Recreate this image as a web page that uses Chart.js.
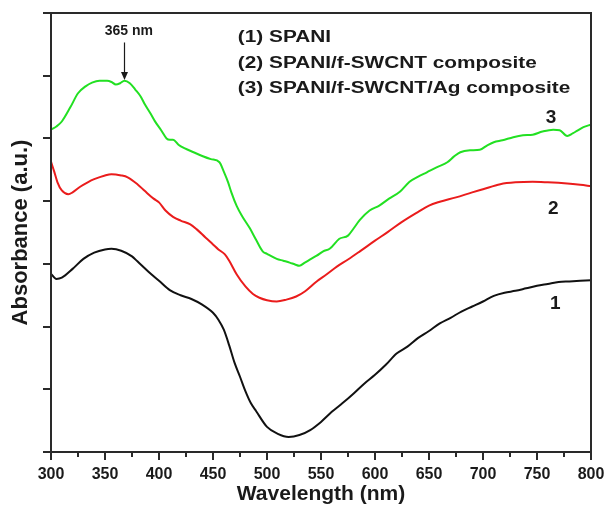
<!DOCTYPE html>
<html>
<head>
<meta charset="utf-8">
<script src="https://cdn.jsdelivr.net/npm/chart.js@4.4.1/dist/chart.umd.min.js"></script>
<style>
  html, body { margin: 0; padding: 0; background: #fff; }
  canvas { display: block; }
</style>
</head>
<body>
<canvas id="c" width="604" height="507"></canvas>
<script>
// ---- data ----
const wavelength1 = [300,305,310,320,330,340,350,356,365,375,380,390,400,410,420,430,440,450,455,460,465,470,475,480,485,490,500,510,520,530,540,550,560,570,580,590,600,610,620,630,640,650,660,670,680,690,700,710,720,730,740,750,760,770,780,790,800];
const absorbance1 = [2.84,2.76,2.78,2.92,3.08,3.18,3.23,3.24,3.21,3.12,3.04,2.88,2.73,2.58,2.50,2.44,2.35,2.22,2.11,1.95,1.70,1.42,1.20,0.97,0.78,0.65,0.40,0.29,0.24,0.27,0.35,0.48,0.64,0.78,0.93,1.09,1.23,1.39,1.57,1.68,1.82,1.93,2.05,2.14,2.24,2.32,2.40,2.49,2.54,2.57,2.61,2.65,2.68,2.71,2.72,2.73,2.74];

const wavelength2 = [300,303,306,310,316,320,327,334,340,350,356,365,371,380,387,395,400,406,413,420,429,435,443,450,455,461,465,472,480,487,493,500,509,518,527,535,546,555,565,575,586,600,612,625,640,650,660,675,690,700,716,730,746,760,778,790,800];
const absorbance2 = [4.63,4.47,4.30,4.17,4.11,4.14,4.23,4.30,4.35,4.41,4.43,4.41,4.38,4.27,4.16,4.04,3.98,3.85,3.75,3.69,3.63,3.55,3.42,3.31,3.23,3.15,3.05,2.83,2.64,2.52,2.46,2.42,2.40,2.43,2.48,2.56,2.72,2.83,2.96,3.07,3.20,3.37,3.51,3.67,3.83,3.93,3.99,4.06,4.14,4.19,4.27,4.30,4.31,4.30,4.28,4.26,4.24];

const wavelength3 = [300,305,310,318,325,332,338,345,352,356,360,364,368,373,378,383,387,392,396,402,407,410,413,418,424,432,440,448,456,460,464,467,472,477,484,490,496,500,509,515,521,526,530,535,540,546,552,558,567,575,580,586,595,604,613,623,632,640,648,657,667,673,679,688,697,704,710,718,728,737,746,755,765,771,778,783,787,793,800];
const absorbance3 = [5.14,5.19,5.27,5.50,5.72,5.83,5.89,5.92,5.92,5.90,5.86,5.88,5.92,5.88,5.78,5.67,5.54,5.40,5.28,5.13,5.00,4.98,4.98,4.90,4.84,4.78,4.72,4.67,4.62,4.47,4.30,4.14,3.92,3.76,3.57,3.38,3.20,3.16,3.08,3.05,3.02,2.99,2.97,3.02,3.07,3.13,3.20,3.24,3.40,3.45,3.56,3.70,3.85,3.93,4.04,4.15,4.31,4.39,4.46,4.54,4.62,4.71,4.78,4.81,4.82,4.89,4.94,4.97,5.02,5.05,5.06,5.11,5.14,5.13,5.04,5.08,5.12,5.18,5.22];

const seriesLabels = ['(1) SPANI', '(2) SPANI/f-SWCNT composite', '(3) SPANI/f-SWCNT/Ag composite'];
const curveNumbers = ['1', '2', '3'];
const xMajorTicks = [300,350,400,450,500,550,600,650,700,750,800];
const peakLabel = '365 nm';

const FONT = '"Liberation Sans", Arial, Helvetica, sans-serif';
const AXIS = '#2a2a2a';

function pts(xs, ys) { return xs.map((x, i) => ({ x: x, y: ys[i] })); }

const framePlugin = {
  id: 'frame',
  afterDraw(chart) {
    const { ctx, chartArea: a, scales } = chart;
    const xs = scales.x, ys = scales.y;
    ctx.save();
    // minor x ticks
    ctx.strokeStyle = AXIS;
    ctx.lineWidth = 2;
    for (let i = 0; i < xMajorTicks.length - 1; i++) {
      const v = (xMajorTicks[i] + xMajorTicks[i + 1]) / 2;
      const px = Math.round(xs.getPixelForValue(v));
      ctx.beginPath();
      ctx.moveTo(px, a.bottom);
      ctx.lineTo(px, a.bottom + 5);
      ctx.stroke();
    }
    // frame
    ctx.strokeRect(a.left, a.top, a.right - a.left, a.bottom - a.top);

    // legend text (wide lettering as in the reference)
    ctx.fillStyle = '#1a1a1a';
    ctx.font = 'bold 16px ' + FONT;
    ctx.textBaseline = 'middle';
    ctx.textAlign = 'left';
    const legY = [6.60, 6.20, 5.80];
    const lx = xs.getPixelForValue(473);
    seriesLabels.forEach((t, i) => {
      ctx.save();
      ctx.translate(lx, ys.getPixelForValue(legY[i]));
      ctx.scale(1.30, 1);
      ctx.fillText(t, 0, 0);
      ctx.restore();
    });

    // curve numbers
    ctx.font = 'bold 19px ' + FONT;
    ctx.textAlign = 'center';
    const numPos = [[767, 2.36], [765, 3.88], [763, 5.33]];
    curveNumbers.forEach((t, i) => {
      ctx.fillText(t, xs.getPixelForValue(numPos[i][0]), ys.getPixelForValue(numPos[i][1]));
    });

    // peak annotation + arrow
    ctx.font = 'bold 14px ' + FONT;
    ctx.fillText(peakLabel, xs.getPixelForValue(372), ys.getPixelForValue(6.71));
    const ax = Math.round(xs.getPixelForValue(368)) + 0.5;
    const y0 = ys.getPixelForValue(6.53), y1 = ys.getPixelForValue(5.93);
    ctx.strokeStyle = '#1a1a1a';
    ctx.lineWidth = 1.2;
    ctx.beginPath();
    ctx.moveTo(ax, y0);
    ctx.lineTo(ax, y1 - 6);
    ctx.stroke();
    ctx.beginPath();
    ctx.moveTo(ax - 3.5, y1 - 8);
    ctx.lineTo(ax + 3.5, y1 - 8);
    ctx.lineTo(ax, y1);
    ctx.closePath();
    ctx.fill();
    ctx.restore();
  }
};

new Chart(document.getElementById('c'), {
  type: 'line',
  data: {
    datasets: [
      { label: seriesLabels[0], data: pts(wavelength1, absorbance1), borderColor: '#111111' },
      { label: seriesLabels[1], data: pts(wavelength2, absorbance2), borderColor: '#ea1c1c' },
      { label: seriesLabels[2], data: pts(wavelength3, absorbance3), borderColor: '#22e022' }
    ]
  },
  options: {
    responsive: false,
    animation: false,
    devicePixelRatio: 1,
    elements: {
      line: { borderWidth: 2, cubicInterpolationMode: 'monotone', fill: false },
      point: { radius: 0, hoverRadius: 0 }
    },
    layout: { autoPadding: false, padding: { left: 8, right: 13, top: 13, bottom: 0 } },
    plugins: { legend: { display: false }, tooltip: { enabled: false } },
    scales: {
      x: {
        type: 'linear',
        min: 300, max: 800,
        afterFit(scale) { scale.paddingLeft = 0; scale.paddingRight = 0; },
        ticks: {
          stepSize: 50, autoSkip: false, maxRotation: 0, padding: 5,
          color: '#1a1a1a',
          font: { family: FONT, size: 16, weight: 'bold' }
        },
        grid: { drawOnChartArea: false, drawTicks: true, tickLength: 8, lineWidth: 2, color: AXIS },
        border: { display: true, width: 2, color: AXIS },
        title: {
          display: true, text: 'Wavelength (nm)', color: '#1a1a1a',
          font: { family: FONT, size: 21, weight: 'bold', lineHeight: 0.495 },
          padding: { top: 0, bottom: 7.4 }
        }
      },
      y: {
        type: 'linear',
        min: 0, max: 7,
        ticks: { stepSize: 1, display: false },
        grid: { drawOnChartArea: false, drawTicks: true, tickLength: 8, lineWidth: 2, color: AXIS },
        border: { display: true, width: 2, color: AXIS },
        title: {
          display: true, text: 'Absorbance (a.u.)', color: '#1a1a1a',
          font: { family: FONT, size: 22, weight: 'bold' },
          padding: { top: 0, bottom: 8.6 }
        }
      }
    }
  },
  plugins: [framePlugin]
});
</script>
</body>
</html>
